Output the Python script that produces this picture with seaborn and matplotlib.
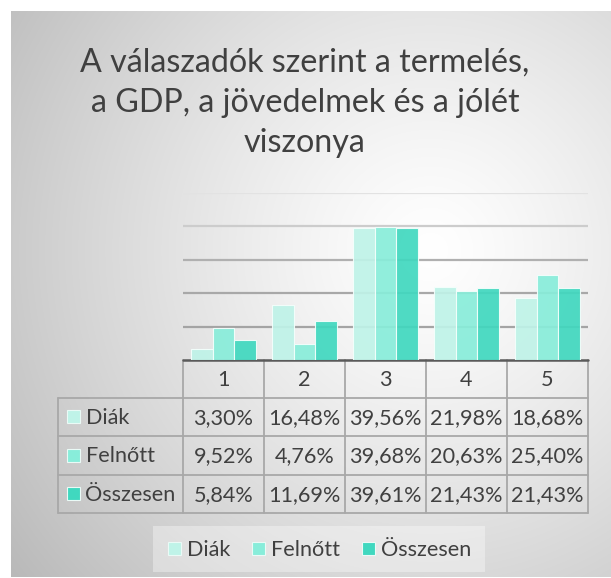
import numpy as np
import pandas as pd
import matplotlib
matplotlib.use("Agg")
import matplotlib.pyplot as plt
import seaborn as sns
from matplotlib.patches import Rectangle

# ---- data -------------------------------------------------------------
categories = ["1", "2", "3", "4", "5"]
series_names = ["Diák", "Felnőtt", "Összesen"]
diak = [3.30, 16.48, 39.56, 21.98, 18.68]
felnott = [9.52, 4.76, 39.68, 20.63, 25.40]
osszesen = [5.84, 11.69, 39.61, 21.43, 21.43]
series_colors = ["#BFF3E8", "#88EDDA", "#40D8BF"]
title_lines = ["A válaszadók szerint a termelés,",
               "a GDP, a jövedelmek és a jólét",
               "viszonya"]

values = [diak, felnott, osszesen]
df = pd.DataFrame(
    [(c, s, v) for s, vals in zip(series_names, values) for c, v in zip(categories, vals)],
    columns=["kategoria", "csoport", "ertek"],
)

def fmt(v):
    return f"{v:.2f}".replace(".", ",") + "%"

# ---- figure & layout (pixel based) -----------------------------------
W, H = 611, 578
FONT = "Lato"
TXT = "#404040"
sns.set_theme(style="white")
plt.rcParams["font.family"] = [FONT, "DejaVu Sans"]

fig = plt.figure(figsize=(W / 100, H / 100), dpi=100)

# background panel with a soft radial gradient
bg = fig.add_axes([0, 0, 1, 1])
bg.set_xlim(0, W)
bg.set_ylim(H, 0)
bg.axis("off")
yy, xx = np.mgrid[0:H, 0:W]
r = np.hypot(xx - 430, yy - 250)
g = 1 - 0.23 * np.clip(r / 460, 0, 1.3) ** 1.25
img = np.dstack([g, g, g])
img[:11, :] = 1
img[:, :11] = 1
img[577:, :] = 1
bg.imshow(img, extent=(0, W, H, 0), aspect="auto", zorder=0, interpolation="bilinear")

# title, one centred line at a time
for k, line in enumerate(title_lines):
    bg.text(305, 63 + 40 * k, line, ha="center", va="center", fontsize=23.2,
            color=TXT, family=FONT)

# plot area
x0, x1 = 183, 588
y_top, y_base = 193, 360
ax = fig.add_axes([x0 / W, 1 - y_base / H, (x1 - x0) / W, (y_base - y_top) / H])
ax.set_facecolor("none")
sns.barplot(data=df, x="kategoria", y="ertek", hue="csoport", order=categories,
            hue_order=series_names, palette=series_colors, saturation=1,
            alpha=0.92, edgecolor="#f4fffc", linewidth=0.8, width=0.8,
            legend=False, ax=ax, zorder=3)
ax.set_ylim(0, 50)
ax.set_xlim(-0.5, len(categories) - 0.5)
ax.set_yticks(np.arange(0, 51, 10))
ax.set_xticks([])
ax.set_yticklabels([])
ax.set_xlabel("")
ax.set_ylabel("")
for s in ax.spines.values():
    s.set_visible(False)
ax.tick_params(left=False, bottom=False)
grid_cols = {10: "#a4a4a4", 20: "#a8a8a8", 30: "#b0b0b0", 40: "#cccccc", 50: "#e2e2e2"}
for yv, c in grid_cols.items():
    ax.axhline(yv, color=c, lw=1.6, zorder=1)

# ---- data table -------------------------------------------------------
line_c = "#a8a8a8"
col_w = (x1 - x0) / len(categories)
col_edges = [x0 + i * col_w for i in range(len(categories) + 1)]
row_edges = [360, 397.5, 436, 475, 512.5]
lab_left = 57.5
lw_t = 1.3

# horizontal lines
bg.plot([x0, x1], [row_edges[0], row_edges[0]], color="#5a5a5a", lw=1.8, zorder=5)
for yv in row_edges[1:]:
    bg.plot([lab_left, x1], [yv, yv], color=line_c, lw=lw_t, zorder=4)
# vertical lines
for xv in col_edges:
    bg.plot([xv, xv], [row_edges[0], row_edges[-1]], color=line_c, lw=lw_t, zorder=4)
bg.plot([lab_left, lab_left], [row_edges[1], row_edges[-1]], color=line_c, lw=lw_t, zorder=4)

tfs = 15.6
for i, c in enumerate(categories):
    cx = (col_edges[i] + col_edges[i + 1]) / 2
    bg.text(cx, (row_edges[0] + row_edges[1]) / 2 + 1, c, ha="center", va="center",
            fontsize=tfs, color=TXT, family=FONT, zorder=6)
for j, (name, vals, colr) in enumerate(zip(series_names, values, series_colors)):
    cy = (row_edges[j + 1] + row_edges[j + 2]) / 2
    bg.add_patch(Rectangle((66.5, cy - 6.5), 13, 13, facecolor=colr, edgecolor="#eafaf6",
                           lw=0.8, zorder=6))
    bg.text(85.5, cy + 1, name, ha="left", va="center", fontsize=tfs, color=TXT,
            family=FONT, zorder=6)
    for i, v in enumerate(vals):
        cx = (col_edges[i] + col_edges[i + 1]) / 2
        bg.text(cx, cy + 1, fmt(v), ha="center", va="center", fontsize=tfs,
                color=TXT, family=FONT, zorder=6)

# ---- legend -----------------------------------------------------------
bg.add_patch(Rectangle((153, 526), 332, 46, facecolor="white", alpha=0.35,
                       edgecolor="none", zorder=3))
leg_x = [168, 252, 362]
for lx, name, colr in zip(leg_x, series_names, series_colors):
    bg.add_patch(Rectangle((lx, 542), 13, 13, facecolor=colr, edgecolor="#eafaf6",
                           lw=0.8, zorder=6))
    bg.text(lx + 19, 549.5, name, ha="left", va="center", fontsize=tfs,
            color=TXT, family=FONT, zorder=6)

fig.savefig("out.png", dpi=100)
